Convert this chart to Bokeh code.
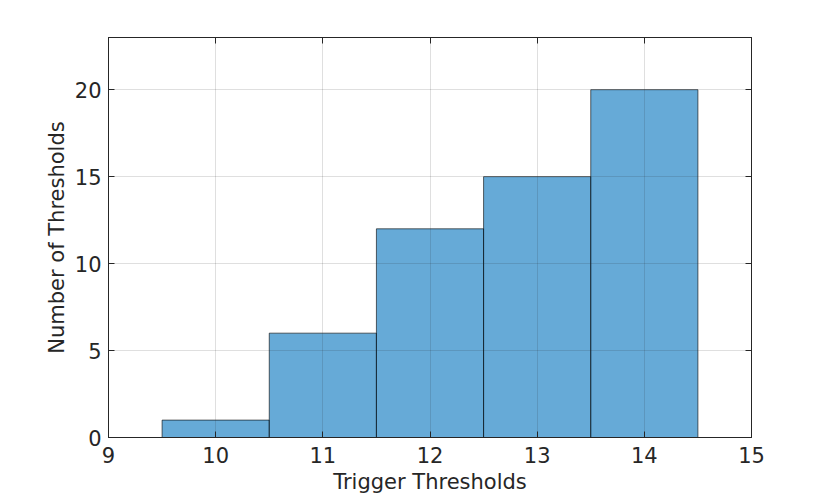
from bokeh.plotting import figure
from bokeh.models import LinearAxis, FixedTicker, Range1d
from bokeh.embed import file_html
from bokeh.resources import INLINE

bin_left = [9.5, 10.5, 11.5, 12.5, 13.5]
bin_right = [10.5, 11.5, 12.5, 13.5, 14.5]
counts = [1, 6, 12, 15, 20]
x_ticks = [9, 10, 11, 12, 13, 14, 15]
y_ticks = [0, 5, 10, 15, 20]

p = figure(frame_width=643, frame_height=400, output_backend="svg", toolbar_location=None,
           x_range=Range1d(9, 15), y_range=Range1d(0, 23))
p.min_border_left = 108
p.min_border_right = 71
p.min_border_top = 37
p.min_border_bottom = 58
p.outline_line_color = "#262626"
p.outline_line_width = 1

p.quad(left=bin_left, right=bin_right, bottom=0, top=counts,
       fill_color="#0072BD", fill_alpha=0.6, line_color="#000000", line_alpha=0.6, line_width=1)

font = "DejaVu Sans"
for ax in [p.xaxis[0], p.yaxis[0]]:
    ax.axis_line_color = "#262626"
    ax.major_tick_line_color = "#262626"
    ax.major_tick_in = 6
    ax.major_tick_out = 0
    ax.minor_tick_line_color = None
    ax.major_label_text_font = font
    ax.major_label_text_font_size = "21px"
    ax.major_label_text_color = "#262626"
    ax.axis_label_text_font = font
    ax.axis_label_text_font_size = "21px"
    ax.axis_label_text_font_style = "normal"
    ax.axis_label_text_color = "#262626"

p.xaxis[0].ticker = FixedTicker(ticks=x_ticks)
p.yaxis[0].ticker = FixedTicker(ticks=y_ticks)
p.xaxis[0].axis_label = "Trigger Thresholds"
p.yaxis[0].axis_label = "Number of Thresholds"
p.xaxis[0].major_label_standoff = 9
p.yaxis[0].major_label_standoff = 7
p.xaxis[0].axis_label_standoff = 4
p.yaxis[0].axis_label_standoff = 3

top = LinearAxis(ticker=FixedTicker(ticks=x_ticks), major_label_text_font_size="0px",
                 major_tick_in=6, major_tick_out=0, minor_tick_line_color=None,
                 axis_line_color="#262626", major_tick_line_color="#262626")
right = LinearAxis(ticker=FixedTicker(ticks=y_ticks), major_label_text_font_size="0px",
                   major_tick_in=6, major_tick_out=0, minor_tick_line_color=None,
                   axis_line_color="#262626", major_tick_line_color="#262626")
top.major_label_overrides = {t: "" for t in x_ticks}
right.major_label_overrides = {t: "" for t in y_ticks}
top.major_label_standoff = 0
right.major_label_standoff = 0
p.add_layout(top, "above")
p.add_layout(right, "right")

for g in [p.xgrid[0], p.ygrid[0]]:
    g.grid_line_color = "#262626"
    g.grid_line_alpha = 0.15
    g.level = "overlay"
p.xgrid[0].ticker = FixedTicker(ticks=x_ticks)
p.ygrid[0].ticker = FixedTicker(ticks=y_ticks)

open("out.html", "w").write(file_html(p, INLINE))
